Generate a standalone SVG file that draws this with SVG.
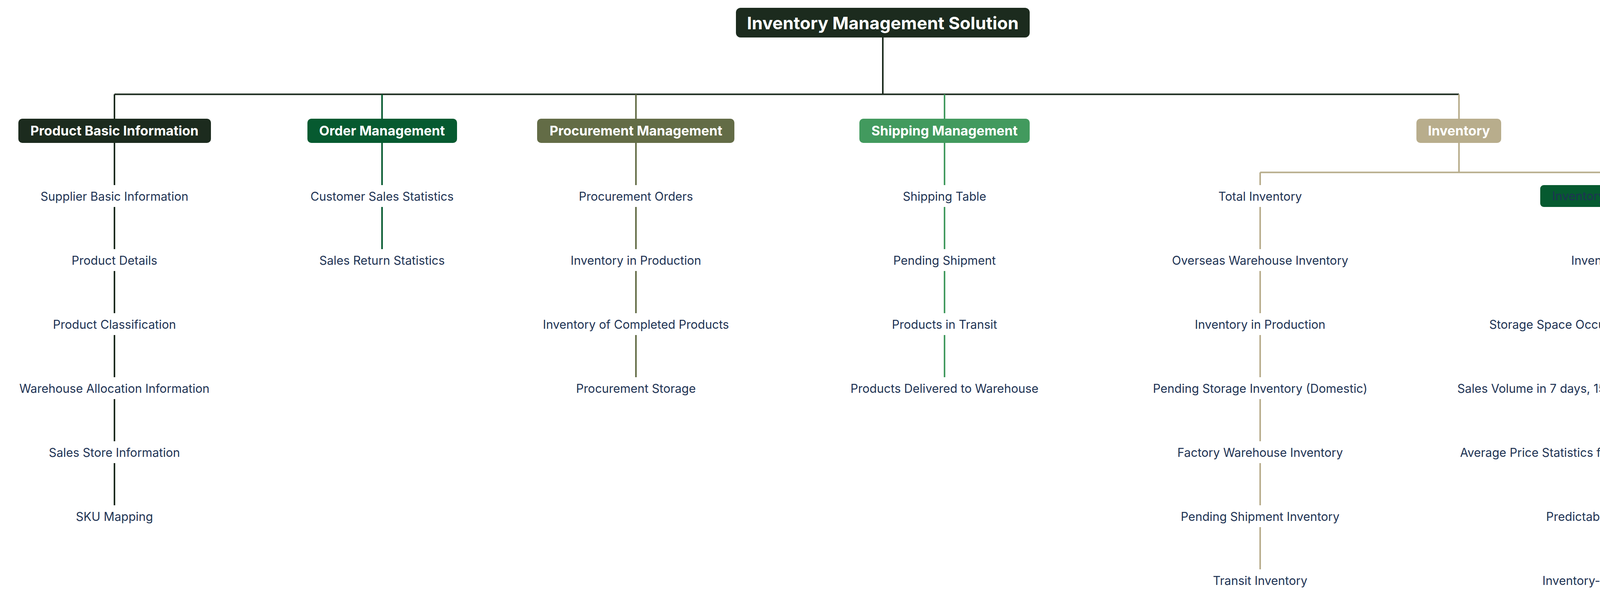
<svg xmlns="http://www.w3.org/2000/svg" width="4566" height="1534" viewBox="0 0 4566 1534">
<style>
.bg{fill:#ffffff}
.root rect{fill:#1c2b1e}
.root text{font-family:Inter,"Noto Sans",sans-serif;font-weight:700;font-size:44.5px;fill:#ffffff;text-anchor:middle}
.l1 text{font-family:Inter,"Noto Sans",sans-serif;font-weight:700;font-size:34px;fill:#ffffff;text-anchor:middle}
.leaf text,.sub text{font-family:Inter,"Noto Sans",sans-serif;font-weight:400;font-size:30.5px;fill:#1e3354;text-anchor:middle}
.c{fill:none;stroke-width:4}
.k{stroke:#1c2b1e}
.g{stroke:#065a30}
.o{stroke:#636c46}
.s{stroke:#429a5e}
.t{stroke:#b8ad8c}
</style>
<rect class="bg" x="0" y="0" width="4566" height="1534"/>
<g id="connectors">
  <path class="c k" d="M2260 96V241.5M293 241.5H3735"/>
  <path class="c k" d="M293 241.5V304"/>
  <path class="c g" d="M978 241.5V304"/>
  <path class="c o" d="M1628 241.5V304"/>
  <path class="c s" d="M2418 241.5V304"/>
  <path class="c t" d="M3735 241.5V304"/>
  <path class="c k" d="M293 366V474M293 530V638M293 694V802M293 858V966M293 1022V1130M293 1186V1294"/>
  <path class="c g" d="M978 366V474M978 530V638"/>
  <path class="c o" d="M1628 366V474M1628 530V638M1628 694V802M1628 858V966"/>
  <path class="c s" d="M2418 366V474M2418 530V638M2418 694V802M2418 858V966"/>
  <path class="c t" d="M3735 366V441.5M3226 441.5H4123M3226 441.5V474M3226 530V638M3226 694V802M3226 858V966M3226 1022V1130M3226 1186V1294M3226 1350V1458"/>
  <path class="c g" d="M4123 441.5V474M4123 530V638M4123 694V802M4123 858V966M4123 1022V1130M4123 1186V1294M4123 1350V1458"/>
</g>
<g id="root" class="root"><rect x="1884" y="20" width="752" height="76" rx="12"/><text x="2260" y="75">Inventory Management Solution</text></g>
<g id="product-basic-information" class="l1"><rect x="47" y="304" width="493" height="62" rx="10" fill="#1c2b1e"/><text x="293" y="347">Product Basic Information</text></g>
<g id="order-management" class="l1"><rect x="787" y="304" width="383" height="62" rx="10" fill="#065a30"/><text x="978" y="347">Order Management</text></g>
<g id="procurement-management" class="l1"><rect x="1375" y="304" width="505" height="62" rx="10" fill="#636c46"/><text x="1628" y="347">Procurement Management</text></g>
<g id="shipping-management" class="l1"><rect x="2200" y="304" width="436" height="62" rx="10" fill="#429a5e"/><text x="2418" y="347">Shipping Management</text></g>
<g id="inventory" class="l1"><rect x="3626" y="304" width="217" height="62" rx="10" fill="#b8ad8c"/><text x="3735" y="347">Inventory</text></g>
<g id="inventory-monitoring" class="sub"><rect x="3943" y="474" width="359" height="56" rx="9" fill="#065a30"/><text x="4123" y="513">Inventory Monitoring</text></g>
<g id="supplier-basic-information" class="leaf"><text x="293" y="514">Supplier Basic Information</text></g>
<g id="product-details" class="leaf"><text x="293" y="678">Product Details</text></g>
<g id="product-classification" class="leaf"><text x="293" y="842">Product Classification</text></g>
<g id="warehouse-allocation-information" class="leaf"><text x="293" y="1006">Warehouse Allocation Information</text></g>
<g id="sales-store-information" class="leaf"><text x="293" y="1170">Sales Store Information</text></g>
<g id="sku-mapping" class="leaf"><text x="293" y="1334">SKU Mapping</text></g>
<g id="customer-sales-statistics" class="leaf"><text x="978" y="514">Customer Sales Statistics</text></g>
<g id="sales-return-statistics" class="leaf"><text x="978" y="678">Sales Return Statistics</text></g>
<g id="procurement-orders" class="leaf"><text x="1628" y="514">Procurement Orders</text></g>
<g id="inventory-in-production-1" class="leaf"><text x="1628" y="678">Inventory in Production</text></g>
<g id="inventory-of-completed-products" class="leaf"><text x="1628" y="842">Inventory of Completed Products</text></g>
<g id="procurement-storage" class="leaf"><text x="1628" y="1006">Procurement Storage</text></g>
<g id="shipping-table" class="leaf"><text x="2418" y="514">Shipping Table</text></g>
<g id="pending-shipment" class="leaf"><text x="2418" y="678">Pending Shipment</text></g>
<g id="products-in-transit" class="leaf"><text x="2418" y="842">Products in Transit</text></g>
<g id="products-delivered-to-warehouse" class="leaf"><text x="2418" y="1006">Products Delivered to Warehouse</text></g>
<g id="total-inventory" class="leaf"><text x="3226" y="514">Total Inventory</text></g>
<g id="overseas-warehouse-inventory" class="leaf"><text x="3226" y="678">Overseas Warehouse Inventory</text></g>
<g id="inventory-in-production-2" class="leaf"><text x="3226" y="842">Inventory in Production</text></g>
<g id="pending-storage-inventory-domestic" class="leaf"><text x="3226" y="1006">Pending Storage Inventory (Domestic)</text></g>
<g id="factory-warehouse-inventory" class="leaf"><text x="3226" y="1170">Factory Warehouse Inventory</text></g>
<g id="pending-shipment-inventory" class="leaf"><text x="3226" y="1334">Pending Shipment Inventory</text></g>
<g id="transit-inventory" class="leaf"><text x="3226" y="1498">Transit Inventory</text></g>
<g id="inventory-age" class="leaf"><text x="4123" y="678">Inventory Age</text></g>
<g id="storage-space-occupied" class="leaf"><text x="4123" y="842">Storage Space Occupied by Individual SKU</text></g>
<g id="sales-volume" class="leaf"><text x="4123" y="1006">Sales Volume in 7 days, 15 days, 30 days, and 60 days</text></g>
<g id="average-price-statistics" class="leaf"><text x="4123" y="1170">Average Price Statistics for 60 Days Across Platforms</text></g>
<g id="predictable-sales-days" class="leaf"><text x="4123" y="1334">Predictable Sales Days</text></g>
<g id="inventory-to-sales-ratio" class="leaf"><text x="4123" y="1498">Inventory-to-Sales Ratio</text></g>
</svg>
